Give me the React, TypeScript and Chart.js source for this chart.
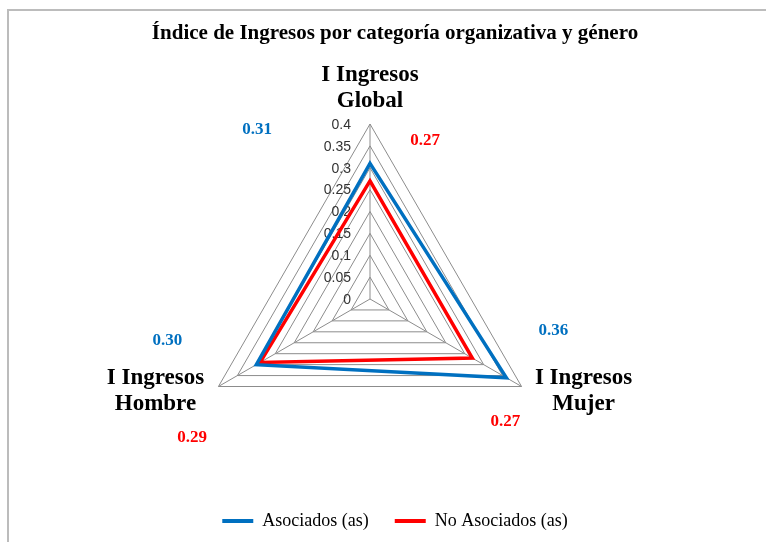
import React, { useEffect, useRef } from 'react';
import { Chart, registerables } from 'chart.js';

Chart.register(...registerables);

// ---- data ----
const categories: string[][] = [
  ['I Ingresos', 'Global'],
  ['I Ingresos', 'Mujer'],
  ['I Ingresos', 'Hombre'],
];
const asociados: number[] = [0.31, 0.36, 0.3];
const noAsociados: number[] = [0.27, 0.27, 0.29];
const seriesNames: string[] = ['Asociados (as)', 'No Asociados (as)'];
const tickLabels: string[] = ['0', '0.05', '0.1', '0.15', '0.2', '0.25', '0.3', '0.35', '0.4'];
const chartTitle = 'Índice de Ingresos por categoría organizativa y género';

// ---- style ----
const BLUE = '#0070C0';
const RED = '#FF0000';
const GRID = '#8c8c8c';
const SERIF = '"Liberation Serif", "Times New Roman", serif';
const SANS = '"Liberation Sans", Arial, sans-serif';
// data label offsets (px) relative to each point, per series
const DATA_LABEL_OFFSETS: number[][][] = [
  [[-113, -34], [47, -47], [-89, -24]],
  [[55, -40], [33, 64], [-68, 75]],
];
// category label offsets relative to the outer vertex
const CAT_LABEL_OFFSETS: number[][] = [[0, -36], [62, 5], [-63, 5]];

const labelsPlugin = {
  id: 'customLabels',
  beforeDatasetsDraw(chart: any) {
    const scale = chart.scales.r;
    const ctx = chart.ctx;
    ctx.save();
    ctx.font = `14px ${SANS}`;
    ctx.fillStyle = '#333333';
    ctx.textAlign = 'right';
    ctx.textBaseline = 'middle';
    scale.ticks.forEach((t: any, i: number) => {
      const d = scale.getDistanceFromCenterForValue(t.value);
      const txt = tickLabels[i] ?? String(t.value);
      ctx.fillText(txt, scale.xCenter - 19, scale.yCenter - d + 1);
    });
    ctx.restore();
  },
  afterDraw(chart: any) {
    const scale = chart.scales.r;
    const ctx = chart.ctx;
    ctx.save();
    // category labels
    ctx.font = `bold 23px ${SERIF}`;
    ctx.fillStyle = '#000000';
    ctx.textAlign = 'center';
    ctx.textBaseline = 'middle';
    const lh = 26;
    categories.forEach((lines, i) => {
      const p = scale.getPointPosition(i, scale.drawingArea);
      const cx = p.x + CAT_LABEL_OFFSETS[i][0];
      const cy = p.y + CAT_LABEL_OFFSETS[i][1];
      lines.forEach((ln, j) => {
        ctx.fillText(ln, cx, cy + (j - (lines.length - 1) / 2) * lh);
      });
    });
    // data labels
    ctx.font = `bold 17px ${SERIF}`;
    chart.data.datasets.forEach((ds: any, di: number) => {
      const meta = chart.getDatasetMeta(di);
      ctx.fillStyle = ds.borderColor;
      meta.data.forEach((el: any, i: number) => {
        const v = ds.data[i] as number;
        const off = DATA_LABEL_OFFSETS[di][i];
        ctx.fillText(v.toFixed(2), el.x + off[0], el.y + off[1]);
      });
    });
    ctx.restore();
  },
};

export default function App() {
  const ref = useRef<HTMLCanvasElement | null>(null);
  useEffect(() => {
    if (!ref.current) return;
    const chart = new Chart(ref.current, {
      type: 'radar',
      data: {
        labels: categories,
        datasets: [
          {
            label: seriesNames[0],
            data: asociados,
            borderColor: BLUE,
            backgroundColor: BLUE,
            borderWidth: 3.5,
            pointRadius: 0,
            fill: false,
          },
          {
            label: seriesNames[1],
            data: noAsociados,
            borderColor: RED,
            backgroundColor: RED,
            borderWidth: 3.5,
            pointRadius: 0,
            fill: false,
          },
        ],
      },
      options: {
        responsive: false,
        animation: false,
        layout: { padding: { left: 24, right: 0, top: 0, bottom: 2 } },
        scales: {
          r: {
            min: 0,
            max: 0.4,
            ticks: { stepSize: 0.05, display: false },
            grid: { color: GRID, lineWidth: 1 },
            angleLines: { display: true, color: GRID, lineWidth: 1 },
            pointLabels: { display: false },
          },
        },
        plugins: {
          title: {
            display: true,
            text: chartTitle,
            color: '#000000',
            font: { family: SERIF, size: 21, weight: 'bold', lineHeight: 1.2 },
            padding: { top: 21.4, bottom: 77.4 },
          },
          subtitle: {
            display: true,
            text: '',
            position: 'right',
            fullSize: false,
            font: { size: 10, lineHeight: 1 },
            padding: { top: 20, bottom: 20 },
          },
          legend: {
            display: true,
            position: 'bottom',
            title: { display: true, text: '', font: { size: 12, lineHeight: 1 }, padding: 0 },
            labels: {
              color: '#000000',
              font: { family: SERIF, size: 18 },
              boxWidth: 31,
              boxHeight: 4,
              padding: 26,
              generateLabels: (c: any) => {
                const items = Chart.defaults.plugins.legend.labels.generateLabels(c);
                return items.map((it: any) => ({ ...it, fillStyle: it.strokeStyle, lineWidth: 0 }));
              },
            },
          },
          tooltip: { enabled: false },
        },
      },
      plugins: [labelsPlugin],
    } as any);
    return () => chart.destroy();
  }, []);

  return (
    <div style={{ position: 'fixed', left: 0, top: 0, width: 766, height: 542, background: '#ffffff' }}>
      <canvas ref={ref} width={766} height={542} style={{ position: 'absolute', left: 0, top: 0 }} />
      <div
        style={{
          position: 'absolute',
          left: 7,
          top: 9,
          width: 759,
          height: 533,
          boxSizing: 'border-box',
          borderTop: '2px solid #bcbcbc',
          borderLeft: '2px solid #bcbcbc',
          pointerEvents: 'none',
        }}
      />
    </div>
  );
}
